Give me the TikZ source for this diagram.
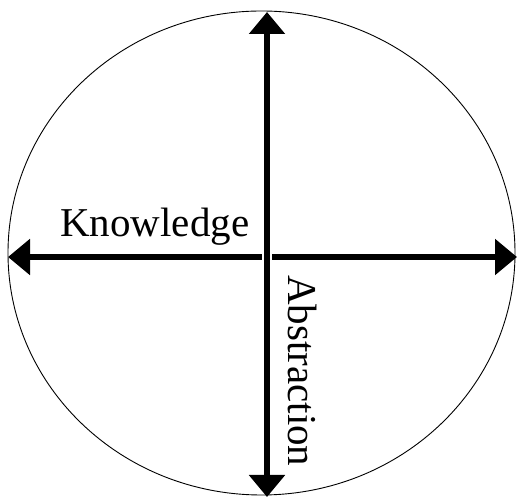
\documentclass[tikz,border=0pt]{standalone}
\usepackage{fontspec}
\setmainfont{Liberation Serif}
\usetikzlibrary{arrows.meta}

\begin{document}
\begin{tikzpicture}[x=1pt, y=1pt,
  axisarrow/.style={line width=6pt,
    {Triangle[length=22pt, width=35pt]}-{Triangle[length=22pt, width=35pt]}},
  axislabel/.style={inner sep=0pt, font=\fontsize{41}{41}\selectfont}]

\useasboundingbox (0,0) rectangle (517,497);

%---------------------------------------
% Outer circle
%---------------------------------------
\draw[line width=0.9pt] (261.5,244) ellipse [x radius=253.5, y radius=242];

%---------------------------------------
% Axes
%---------------------------------------
\coordinate (west)  at (8,240);
\coordinate (east)  at (517,240);
\coordinate (north) at (267,485);
\coordinate (south) at (267,0);

\draw[axisarrow] (west) -- (east);
\draw[white, line width=10pt] (267,230) -- (267,250);  % gap at the crossing
\draw[axisarrow] (north) -- (south);

% Labels
\node[axislabel, anchor=base west] (knowledge) at (60,260) {Knowledge};
\node[axislabel, anchor=base west, rotate=-90] (abstraction) at (288,222) {Abstraction};

\end{tikzpicture}
\end{document}
